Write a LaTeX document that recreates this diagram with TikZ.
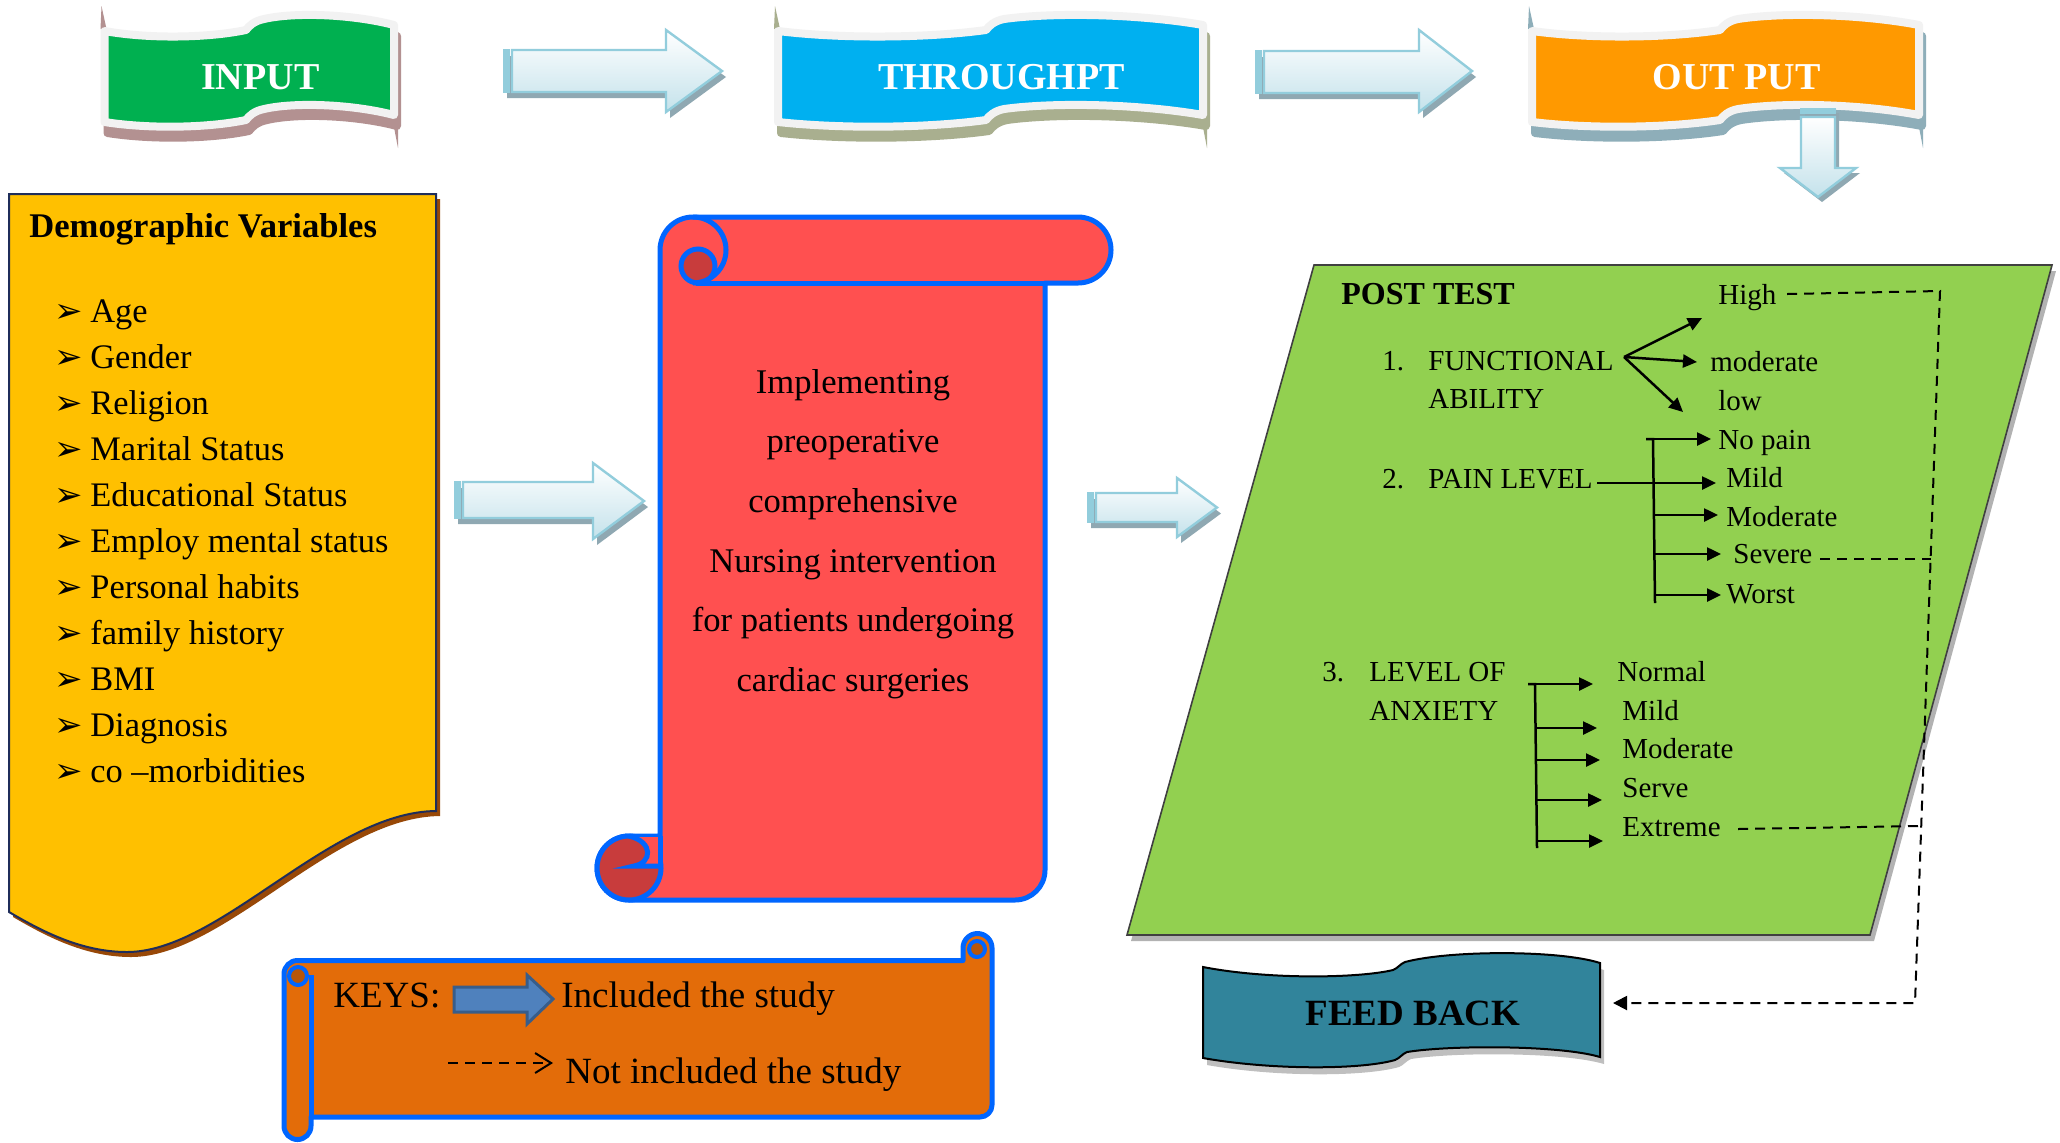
\documentclass[tikz,border=0pt]{standalone}
\usepackage{fontspec}
\setmainfont{Liberation Serif}
\newfontfamily\dejavu{DejaVu Sans}
\usetikzlibrary{arrows.meta}
\definecolor{flagwhite}{HTML}{F2F2F2}
\definecolor{ingreen}{HTML}{00B050}
\definecolor{inshadow}{HTML}{B39191}
\definecolor{thblue}{HTML}{00B0F0}
\definecolor{thshadow}{HTML}{A9AF8F}
\definecolor{outorange}{HTML}{FF9900}
\definecolor{outshadow}{HTML}{8EAEB9}
\definecolor{arrline}{HTML}{92CDDC}
\definecolor{arrlow}{HTML}{C4E2EB}
\definecolor{arrshadow}{HTML}{8FA8B2}
\definecolor{docyellow}{HTML}{FFC000}
\definecolor{docnavy}{HTML}{1F2D5A}
\definecolor{docshadow}{HTML}{984807}
\definecolor{scrollred}{HTML}{FF5050}
\definecolor{scrolldark}{HTML}{C83C3C}
\definecolor{scrollblue}{HTML}{0066FF}
\definecolor{postgreen}{HTML}{92D050}
\definecolor{fbteal}{HTML}{31849B}
\definecolor{keyorange}{HTML}{E36C09}
\definecolor{keydark}{HTML}{B7560A}
\definecolor{keyblue}{HTML}{4F81BD}
\definecolor{keyblueline}{HTML}{385D8A}

\newcommand{\flagpath}[4]{%
  \path[#4] (#1,31) .. controls ({#1+0.3*(#2-#1)},39) and ({#2-0.3*(#2-#1)},38) .. ({#2-6},30)
  .. controls ({#2-3},26) and ({#2+2},21) .. ({#2+12},19)
  .. controls ({#2+0.3*(#3-#2)},12) and ({#3-0.3*(#3-#2)},14) .. (#3,25)
  -- (#3,115)
  .. controls ({#3-0.3*(#3-#2)},104) and ({#2+0.3*(#3-#2)},102) .. ({#2+12},109)
  .. controls ({#2+2},111) and ({#2-3},116) .. ({#2-6},120)
  .. controls ({#2-0.3*(#2-#1)},128) and ({#1+0.3*(#2-#1)},129) .. (#1,122)
  -- cycle;}

\newcommand{\drawflag}[7]{%
  \begin{scope}[shift={(3,11)}]\flagpath{#1}{#2}{#3}{fill=#5,draw=#5,line width=4pt,line join=round}\end{scope}
  \fill[#5] ({#1-3},6) -- ({#1+2},29) -- ({#1-4},29) -- cycle;
  \fill[#5] ({#3-2},117) -- ({#3+4},117) -- ({#3+4},148) -- cycle;
  \flagpath{#1}{#2}{#3}{fill=#4,draw=flagwhite,line width=4pt,line join=round}
  \node[flagtext] (#6) at ({(#1+#3)/2+11},77) {#7};
}

\newcommand{\blockarrow}[7]{%
  \fill[arrshadow] ({#1+4},{#2+6}) -- ({#4+4},{#2+6}) -- ({#4+4},{#5+6}) -- ({#7+4},{(#5+#6)/2+6}) -- ({#4+4},{#6+6}) -- ({#4+4},{#3+6}) -- ({#1+4},{#3+6}) -- cycle;
  \path[top color=white, bottom color=arrlow, draw=arrline, line width=1.2pt, line join=miter]
    ({#1+9},#2) -- (#4,#2) -- (#4,#5) -- (#7,{(#5+#6)/2}) -- (#4,#6) -- (#4,#3) -- ({#1+9},#3) -- cycle;
  \fill[arrline] (#1,{#2-1}) rectangle ({#1+7},{#3+1});
}

\begin{document}
\begin{tikzpicture}[x=0.5pt,y=-0.5pt,
  lbl/.style={inner sep=0pt, anchor=mid west},
  flagtext/.style={text=white, font=\fontsize{19}{20}\selectfont\bfseries, inner sep=0pt},
  gtext/.style={lbl, yshift=-2pt, font=\fontsize{14.5}{16}\selectfont},
  ylist/.style={lbl, yshift=-3pt, font=\fontsize{17.2}{19}\selectfont},
  ybullet/.style={lbl, yshift=-3pt, font=\dejavu\fontsize{17}{19}\selectfont},
  ktext/.style={lbl, yshift=-3pt, font=\fontsize{18.5}{20}\selectfont},
  garrow/.style={line width=1.25pt, -{Triangle[length=7pt,width=6.5pt]}},
  gline/.style={line width=1.25pt},
  dline/.style={line width=1pt, dash pattern=on 5pt off 3.5pt},
]
\useasboundingbox (0,0) rectangle (2060,1142);
\fill[white] (0,0) rectangle (2060,1142);

% ---------- top flags ----------
\drawflag{104.5}{252}{394}{ingreen}{inshadow}{input}{INPUT}
\drawflag{778}{992}{1203}{thblue}{thshadow}{through}{THROUGHPT}
\drawflag{1532}{1726}{1919}{outorange}{outshadow}{output}{OUT PUT}

% ---------- block arrows ----------
\blockarrow{503}{50}{92}{666}{30}{112}{722}
\blockarrow{1255}{51}{93}{1419}{30}{112}{1472}
\blockarrow{454}{482}{518}{593}{463}{539}{644}
\blockarrow{1087}{493}{522}{1177}{478}{537}{1217}
% down arrow
\fill[arrshadow] (1805,113) -- (1839,113) -- (1839,173) -- (1860,173) -- (1822,202) -- (1784,173) -- (1805,173) -- cycle;
\path[top color=white, bottom color=arrlow, draw=arrline, line width=1.2pt] (1801,117) -- (1835,117) -- (1835,168) -- (1856,168) -- (1818,197) -- (1780,168) -- (1801,168) -- cycle;
\fill[arrline] (1800,108) rectangle (1836,114);

% ---------- demographic document ----------
\begin{scope}[shift={(4,5)}]
\fill[docshadow] (9,194) -- (436,194) -- (436,811) .. controls (330,812) and (220,952) .. (127,952) .. controls (80,952) and (40,930) .. (9,912) -- cycle;
\end{scope}
\path[fill=docyellow, draw=docnavy, line width=1pt] (9,194) -- (436,194) -- (436,811) .. controls (330,812) and (220,952) .. (127,952) .. controls (80,952) and (40,930) .. (9,912) -- cycle;
\node[lbl, yshift=-3pt, font=\fontsize{17.3}{19}\selectfont\bfseries] (demo) at (29,227) {Demographic Variables};
\foreach \t [count=\i from 0] in {Age,Gender,Religion,Marital Status,Educational Status,Employ mental status,Personal habits,family history,BMI,Diagnosis,co –morbidities}{
  \node[ybullet] (b\i) at (54,{312+46*\i}) {➢};
  \node[ylist] (item\i) at (90,{312+46*\i}) {\t};
}

% ---------- red scroll ----------
\path[fill=scrollred, draw=scrollblue, line width=2.5pt, line join=round]
  (660,250) arc[start angle=180, end angle=270, radius=33] -- (1078,217)
  arc[start angle=270, end angle=450, radius=33] -- (1045,283) -- (1045,870)
  arc[start angle=0, end angle=90, radius=30] -- (629,900)
  arc[start angle=90, end angle=270, radius=32] -- (660,836) -- cycle;
\draw[scrollblue, line width=2.5pt] (1045,283) -- (696,283);
\path[fill=scrolldark, draw=scrollblue, line width=2.5pt] (698,266) circle[radius=17];
\draw[scrollblue, line width=2.5pt] (693,217) arc[start angle=270, end angle=450, radius=33];
\path[fill=scrolldark, draw=scrollblue, line width=2.5pt] (629,868) circle[radius=32];
\path[fill=scrollred] (629,837) -- (659,837) -- (659,866) -- (634,866) .. controls (652,863) and (654,842) .. (629,837) -- cycle;
\draw[scrollblue, line width=2.5pt] (661,866) -- (634,866) .. controls (652,863) and (654,842) .. (629,836);
\draw[scrollblue, line width=2.5pt] (660,836) -- (660,866);
\node[align=center, font=\fontsize{17.3}{29.8}\selectfont, inner sep=0pt] (interv) at (853,534)
  {Implementing\\preoperative\\comprehensive\\Nursing intervention\\for patients undergoing\\cardiac surgeries};

% ---------- post test parallelogram ----------
\fill[black, opacity=0.3] (1318,271) -- (2056,271) -- (1874,941) -- (1131,941) -- cycle;
\path[fill=postgreen, draw=black!75, line width=0.8pt] (1314,265) -- (2052,265) -- (1870,935) -- (1127,935) -- cycle;

\node[lbl, yshift=-3pt, font=\fontsize{16}{18}\selectfont\bfseries] (posttest) at (1341,294) {POST TEST};
\node[gtext] (high) at (1718,296) {High};
\node[gtext] (n1) at (1382,362) {1.};
\node[gtext] (func) at (1428,362) {FUNCTIONAL};
\node[gtext] (abil) at (1428,400) {ABILITY};
\node[gtext] (fmod) at (1710,363) {moderate};
\node[gtext] (flow) at (1718,402) {low};
\node[gtext] (nopain) at (1718,441) {No pain};
\node[gtext] (n2) at (1382,480) {2.};
\node[gtext] (pain) at (1428,480) {PAIN LEVEL};
\node[gtext] (pmild) at (1726,479) {Mild};
\node[gtext] (pmod) at (1726,518) {Moderate};
\node[gtext] (psev) at (1733,555) {Severe};
\node[gtext] (pworst) at (1726,595) {Worst};
\node[gtext] (n3) at (1322,673) {3.};
\node[gtext] (lev) at (1369,673) {LEVEL OF};
\node[gtext] (anx) at (1369,712) {ANXIETY};
\node[gtext] (anorm) at (1617,673) {Normal};
\node[gtext] (amild) at (1622,712) {Mild};
\node[gtext] (amod) at (1622,750) {Moderate};
\node[gtext] (aserve) at (1622,789) {Serve};
\node[gtext] (aext) at (1622,828) {Extreme};

% functional ability arrows
\coordinate (fo) at (1624,357);
\coordinate (fh) at (1702,318);
\coordinate (fm) at (1697,362);
\coordinate (fl) at (1683,412);
\draw[garrow] (fo) -- (fh);
\draw[garrow] (fo) -- (fm);
\draw[garrow] (fo) -- (fl);

% pain level bracket
\coordinate (ptop) at (1653,439);
\coordinate (pbot) at (1655,603);
\coordinate (pstub) at (1646,439);
\draw[gline] (pstub) -- (ptop) -- (pbot);
\foreach \y/\tx [count=\i] in {439/1711,483/1716,515/1718,554/1721,595/1721}{
  \coordinate (pa\i) at (1654,\y);
  \coordinate (pt\i) at (\tx,\y);
  \draw[garrow] (pa\i) -- (pt\i);
}
\coordinate (painend) at (1597,483);
\draw[gline] (painend) -- (pa2);

% anxiety bracket
\coordinate (atop) at (1535,684);
\coordinate (abot) at (1537,848);
\coordinate (astub) at (1528,684);
\draw[gline] (astub) -- (atop) -- (abot);
\foreach \y/\tx [count=\i] in {684/1593,728/1597,760/1600,800/1602,841/1603}{
  \coordinate (aa\i) at (1536,\y);
  \coordinate (at\i) at (\tx,\y);
  \draw[garrow] (aa\i) -- (at\i);
}

% ---------- feed back ----------
\begin{scope}[shift={(4,7)}]
\fill[black, opacity=0.25] (1203,967) .. controls (1270,980) and (1360,978) .. (1393,970) .. controls (1398,968) and (1400,964) .. (1405,962) .. controls (1450,950) and (1560,950) .. (1600,963) -- (1600,1057) .. controls (1560,1045) and (1450,1045) .. (1407,1052) .. controls (1402,1054) and (1400,1058) .. (1395,1060) .. controls (1360,1070) and (1270,1070) .. (1203,1058) -- cycle;
\end{scope}
\path[fill=fbteal, draw=black, line width=1pt] (1203,967) .. controls (1270,980) and (1360,978) .. (1393,970) .. controls (1398,968) and (1400,964) .. (1405,962) .. controls (1450,950) and (1560,950) .. (1600,963) -- (1600,1057) .. controls (1560,1045) and (1450,1045) .. (1407,1052) .. controls (1402,1054) and (1400,1058) .. (1395,1060) .. controls (1360,1070) and (1270,1070) .. (1203,1058) -- cycle;
\node[font=\fontsize{18.5}{20}\selectfont\bfseries, inner sep=0pt] (feedback) at (1413,1013) {FEED BACK};

% dashed feedback lines
\coordinate (hstart) at (1787,294);
\coordinate (dc1) at (1940,291);
\coordinate (dc2) at (1915,1003);
\coordinate (sevstart) at (1820,559);
\coordinate (dsv) at (1930.5,559);
\coordinate (extstart) at (1738,829);
\coordinate (dex) at (1921,826);
\coordinate (fbin) at (1613,1003);
\draw[dline, -{Triangle[length=7pt,width=7pt]}] (hstart) -- (dc1) -- (dc2) -- (fbin);
\draw[dline] (sevstart) -- (dsv);
\draw[dline] (extstart) -- (dex);

% ---------- keys scroll ----------
\path[fill=keyorange, draw=scrollblue, line width=2.5pt, line join=round]
  (284,974) arc[start angle=180, end angle=270, radius=13.5] -- (963,960.5) -- (963,948)
  arc[start angle=180, end angle=360, radius=14.5] -- (992,1105)
  arc[start angle=0, end angle=90, radius=12] -- (311,1117) -- (311,1126)
  arc[start angle=0, end angle=180, radius=13.5] -- cycle;
\draw[scrollblue, line width=2.5pt] (311,975) -- (311,1117);
\path[fill=keydark, draw=scrollblue, line width=2pt] (298,976) circle[radius=9];
\path[fill=keydark, draw=scrollblue, line width=2pt] (977,949) circle[radius=8];
\node[ktext] (keys) at (333,997) {KEYS:};
\path[fill=keyblue, draw=keyblueline, line width=1.5pt] (454,987) -- (527,987) -- (527,975) -- (553,999) -- (527,1024) -- (527,1012) -- (454,1012) -- cycle;
\node[ktext] (incl) at (561,997) {Included the study};
\coordinate (kd1) at (448,1063);
\coordinate (kd2) at (553,1063);
\draw[line width=1pt, dash pattern=on 5pt off 3.5pt, -{Straight Barb[length=8pt,width=10pt]}] (kd1) -- (kd2);
\node[ktext] (notincl) at (565,1073) {Not included the study};
\end{tikzpicture}
\end{document}
